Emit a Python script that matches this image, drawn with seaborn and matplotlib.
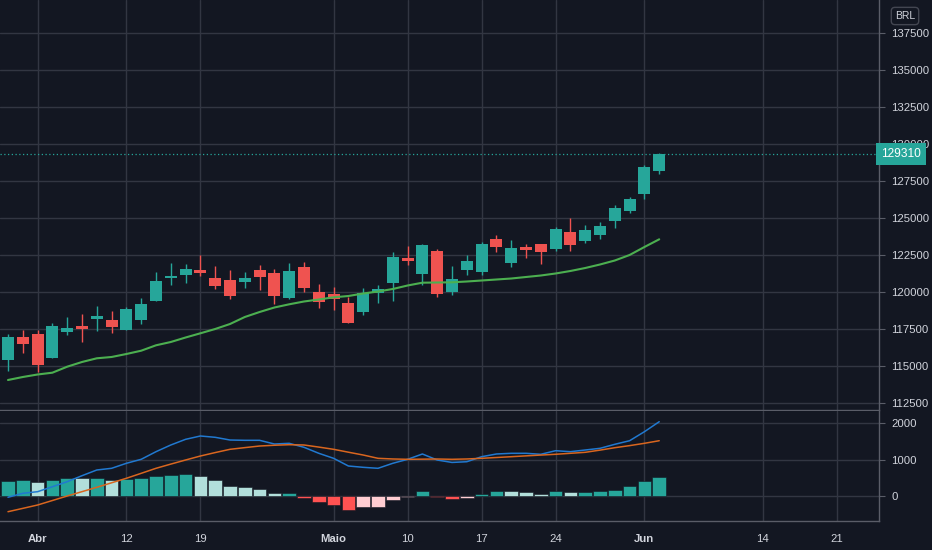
import numpy as np
import pandas as pd
import matplotlib.pyplot as plt
import matplotlib.transforms as mtransforms
import seaborn as sns

# pregões (30/03 a 02/06), sem feriados
datas = ['30/03', '31/03', '01/04', '05/04', '06/04', '07/04', '08/04', '09/04',
         '12/04', '13/04', '14/04', '15/04', '16/04', '19/04', '20/04', '22/04', '23/04',
         '26/04', '27/04', '28/04', '29/04', '30/04', '03/05', '04/05', '05/05', '06/05',
         '07/05', '10/05', '11/05', '12/05', '13/05', '14/05', '17/05', '18/05', '19/05',
         '20/05', '21/05', '24/05', '25/05', '26/05', '27/05', '28/05', '31/05', '01/06',
         '02/06']

abertura = [115405, 116939, 117182, 115560, 117297, 117682, 118195, 118108, 117432, 118108,
            119412, 120925, 121169, 121486, 120966, 120810, 120696, 121486, 121304, 119574,
            121709, 120020, 119844, 119277, 118668, 119912, 120628, 122317, 121216, 122770,
            120020, 121486, 121331, 123581, 121939, 123020, 123243, 122885, 124033, 123446,
            123851, 124797, 125473, 126601, 128176]
maxima = [117162, 117432, 117462, 117885, 118290, 118513, 119054, 118716, 119006, 119574,
          121371, 121939, 121871, 122500, 121756, 121486, 121371, 121824, 121533, 121980,
          122047, 120540, 120358, 119641, 120250, 120473, 122723, 123108, 123242, 122905,
          121756, 122500, 123398, 123851, 123513, 123242, 123243, 124412, 124979, 124527,
          124750, 125878, 126397, 128581, 129412]
minima = [114682, 115898, 114614, 115520, 117074, 116641, 117344, 117209, 117400, 117837,
          119400, 120473, 120628, 121081, 120182, 119527, 120250, 120135, 119189, 119500,
          120020, 118898, 118783, 117885, 118445, 119277, 119372, 121824, 120473, 119641,
          119797, 121148, 121148, 122723, 121669, 122277, 121892, 122790, 122790, 123290,
          123581, 124304, 125317, 126263, 127973]
fechamento = [116979, 116506, 115067, 117682, 117547, 117520, 118378, 117635, 118851, 119189,
              120743, 121081, 121574, 121304, 120405, 119750, 120946, 121033, 119750, 121419,
              120250, 119344, 119506, 117885, 119952, 120182, 122385, 122114, 123175, 119864,
              120858, 122114, 123243, 123020, 122953, 122838, 122723, 124256, 123155, 124189,
              124459, 125655, 126284, 128426, 129310]
media = [114053, 114256, 114425, 114547, 114952, 115270, 115520, 115608, 115810, 116033,
         116398, 116621, 116925, 117209, 117500, 117837, 118310, 118648, 118952, 119168,
         119358, 119493, 119641, 119729, 119898, 120033, 120202, 120439, 120628, 120641,
         120655, 120709, 120776, 120844, 120911, 121013, 121114, 121250, 121419, 121621,
         121858, 122128, 122500, 123040, 123560]

macd = [-27, 82, 126, 262, 399, 563, 719, 765, 902, 1011, 1219, 1402, 1557, 1648, 1612,
        1538, 1530, 1530, 1429, 1448, 1339, 1175, 1038, 828, 792, 765, 902, 1011, 1156, 992,
        925, 945, 1082, 1156, 1175, 1175, 1148, 1246, 1219, 1265, 1311, 1421, 1519, 1765, 2038]
sinal = [-421, -330, -238, -115, 8, 127, 246, 369, 492, 628, 765, 880, 992, 1101, 1195,
         1284, 1330, 1374, 1395, 1410, 1402, 1345, 1284, 1205, 1128, 1038, 1020, 1011, 1015,
         1019, 1011, 1020, 1038, 1060, 1082, 1105, 1127, 1148, 1175, 1202, 1262, 1328, 1385,
         1448, 1519]
histograma = [429, 456, 383, 456, 511, 505, 512, 448, 484, 490, 566, 593, 620, 566, 456,
              284, 256, 202, 93, 98, -36, -164, -228, -365, -300, -282, -91, -18, 148, -27,
              -82, -55, 74, 145, 140, 109, 74, 140, 109, 115, 140, 183, 273, 410, 519]

rotulos_x = ['Abr', '12', '19', 'Maio', '10', '17', '24', 'Jun', '14', '21']
posicoes_x = [2, 8, 13, 22, 27, 32, 37, 43, 51, 56]
ticks_preco = [112500, 115000, 117500, 120000, 122500, 125000, 127500, 130000, 132500,
               135000, 137500]
ticks_macd = [0, 1000, 2000]

df = pd.DataFrame({'data': datas, 'open': abertura, 'high': maxima, 'low': minima,
                   'close': fechamento, 'ma': media, 'macd': macd, 'sinal': sinal,
                   'hist': histograma})
df['i'] = np.arange(len(df))

fundo = '#131722'
grade = '#323642'
borda = '#5a5d68'
texto = '#d1d4dc'
verde = '#26a69a'
vermelho = '#ef5350'

sns.set_theme(style='dark')
plt.rcParams['font.family'] = ['Liberation Sans', 'DejaVu Sans']

fig = plt.figure(figsize=(9.32, 5.5), dpi=100)
fig.patch.set_facecolor(fundo)
ax1 = fig.add_axes([0, 1 - 410 / 550, 879 / 932, 410 / 550])
ax2 = fig.add_axes([0, 1 - 521 / 550, 879 / 932, 110 / 550])

for ax in (ax1, ax2):
    ax.set_facecolor(fundo)
    ax.set_xlim(-0.54, 58.85)
    ax.set_xticks(posicoes_x)
    ax.grid(True, color=grade, linewidth=1)
    for lado in ('left', 'top'):
        ax.spines[lado].set_visible(False)
    for lado in ('right', 'bottom'):
        ax.spines[lado].set_visible(True)
        ax.spines[lado].set_color(borda)
        ax.spines[lado].set_linewidth(1)
    ax.yaxis.tick_right()
    ax.tick_params(axis='both', colors=borda, labelcolor=texto, labelsize=8.2, length=4,
                   width=0.8, pad=5, direction='out')

# candles
cores = [verde if c >= o else vermelho for o, c in zip(df['open'], df['close'])]
ax1.vlines(df['i'], df['low'], df['high'], colors=cores, linewidth=1, zorder=3)
corpo = (df['close'] - df['open']).abs().clip(lower=60)
ax1.bar(df['i'], corpo, bottom=df[['open', 'close']].min(axis=1), width=0.8,
        color=cores, linewidth=0, zorder=4)
sns.lineplot(data=df, x='i', y='ma', ax=ax1, color='#4caf50', linewidth=1.5, zorder=5)
ax1.set_ylim(112026, 139730)
ax1.set_yticks(ticks_preco)
ax1.set_yticklabels([str(t) for t in ticks_preco])
ax1.set_xticklabels([])
ax1.tick_params(axis='x', length=0)
ax1.set_xlabel('')
ax1.set_ylabel('')

# ultimo preço
ultimo = fechamento[-1]
ax1.axhline(ultimo, color=verde, linestyle=(0, (1, 2)), linewidth=0.9, zorder=2)
trans = mtransforms.blended_transform_factory(ax1.transAxes, ax1.transData)
ax1.text(1.0 + 2 / 879, ultimo, str(ultimo), transform=trans, ha='left', va='center',
         color='white', fontsize=8.6, zorder=20, clip_on=False,
         bbox=dict(boxstyle='square,pad=0.4', fc=verde, ec='none'))

# MACD
cores_hist = []
for k, h in enumerate(histograma):
    ant = histograma[k - 1] if k > 0 else h - 1
    if h >= 0:
        cores_hist.append('#26a69a' if h >= ant else '#b2dfdb')
    else:
        cores_hist.append('#ff5252' if h <= ant else '#ffcdd2')
ax2.bar(df['i'], df['hist'], width=0.92, color=cores_hist, edgecolor=fundo,
        linewidth=0.4, zorder=3)
sns.lineplot(data=df, x='i', y='macd', ax=ax2, color='#2179d0', linewidth=1.1, zorder=4)
sns.lineplot(data=df, x='i', y='sinal', ax=ax2, color='#d9661f', linewidth=1.1, zorder=4)
ax2.set_ylim(-675, 2331)
ax2.set_yticks(ticks_macd)
ax2.set_yticklabels([str(t) for t in ticks_macd])
ax2.set_xticklabels(rotulos_x)
for lbl in ax2.get_xticklabels():
    if lbl.get_text() in ('Abr', 'Maio', 'Jun'):
        lbl.set_fontweight('bold')
ax2.set_xlabel('')
ax2.set_ylabel('')

# moeda
fig.text(905 / 932, 1 - 16 / 550, 'BRL', ha='center', va='center', color=texto,
         fontsize=7.5, bbox=dict(boxstyle='round,pad=0.35', fc=fundo, ec='#434651'))

fig.savefig('out.png', dpi=100, facecolor=fundo)
